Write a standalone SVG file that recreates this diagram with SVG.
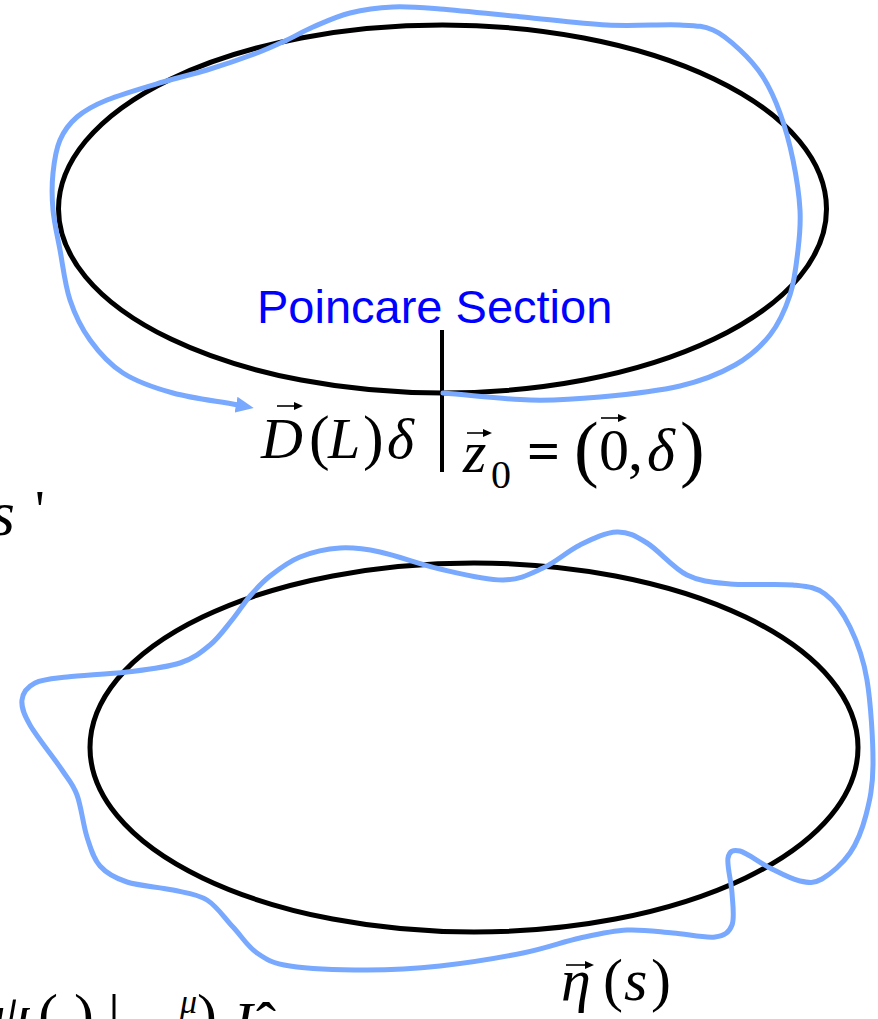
<svg xmlns="http://www.w3.org/2000/svg" width="878" height="1019" viewBox="0 0 878 1019">
<style>
.orbit{fill:none;stroke:#000;stroke-width:5}
.pert{fill:none;stroke:#78a9ff;stroke-width:5;stroke-linejoin:round;stroke-linecap:round}
.m{font-family:"Liberation Serif","Times New Roman",serif;fill:#000}
.i{font-style:italic}
.vec{stroke:#000;stroke-width:1.6;fill:none}
.vh{fill:#000}
.lbl{font-family:"Liberation Sans",Arial,sans-serif;fill:#0000ff;font-size:47px}
</style>
<defs>
<marker id="ah" viewBox="0 0 18 16" markerWidth="18" markerHeight="16" refX="2" refY="8" orient="auto" markerUnits="userSpaceOnUse">
<path d="M0,0 L18,8 L0,16 Z" fill="#78a9ff"/>
</marker>
</defs>
<rect width="878" height="1019" fill="#fff"/>

<g id="top-orbit">
<ellipse class="orbit" cx="442.5" cy="209" rx="384" ry="184"/>
</g>
<g id="bottom-orbit">
<ellipse class="orbit" cx="474" cy="747.5" rx="384" ry="184.5"/>
</g>
<g id="poincare-section">
<line x1="442" y1="330" x2="442" y2="472" stroke="#000" stroke-width="4"/>
<text class="lbl" x="257" y="323">Poincare Section</text>
</g>

<g id="connectors">
<path class="pert" marker-end="url(#ah)" d="M443,393 C472,395.3 503.8,399.3 530,400 S575,399.3 600,397 S657.5,391.3 680,386 S720,373.5 735,365 S760.8,346.7 770,335 S785.3,309.2 790,295 S796.3,264.2 798,250 S800.8,225 800,210 S796.3,176.2 793,160 S785,126.8 780,113 S769.7,87.5 763,77 S748.3,57.8 740,50 S723,34.2 713,30 S697.7,25.8 680,25 S633.2,26.3 607,25 S550.8,19.7 523,17 S461.7,10.7 440,9 S408,6.3 393,7 S363.3,9.7 350,13 S323.5,22.5 313,27 S296.3,35.7 287,40 S270.3,48 257,53 S222.7,65.2 207,70 S179.7,77 163,82 S121.3,94.2 107,100 S84.8,110.3 77,117 S64,130.7 60,140 S54.2,161.3 53,173 S51.8,197.2 53,210 S57.2,235 60,250 S65,285 70,300 S81.2,327.8 90,340 S109.2,364.2 123,373 S153.8,387.7 173,393 S216.3,401 238,405"/>
<path class="pert" d="M22,700 C22.8,693 27.5,686.8 35,683 S51.7,678.8 67,677 S108.2,674.3 127,672 S166.2,667.5 180,663 S201.3,652.2 210,645 S225.3,628.2 232,620 S243.7,603.3 250,596 S261.7,582.5 270,576 S288.3,561.7 300,557 S326.7,548.8 340,548 S363.3,548.5 380,552 S419.5,564.3 440,569 S485.8,580.2 503,580 S530.2,573.8 543,568 S567.7,551 580,545 S605.8,532.3 617,532 S635.3,535.8 647,543 S673.2,568.2 687,575 S712.3,582.3 730,584 S777.2,583.3 793,585 S815.5,587 825,594 S843,612.7 850,627 S863.2,657 867,680 S873.2,742.5 873,765 S869.8,800.3 866,815 S857.3,842.3 850,853 S830.3,874.3 822,879 S808.7,882.8 800,881 S780,873 770,868 S747,852.7 740,851 S729.3,851 728,858 S731.3,881.8 732,893 S734.8,917.7 732,925 S724.8,935.7 715,937 S687.7,934.2 673,933 S642.5,929.2 627,930 S597.3,934.2 580,938 S546.3,948.3 523,953 S466,963.2 440,966 S392,970 367,970 S308.3,968.8 290,966 S266.5,959.5 257,953 S241.3,935.8 233,927 S217,906.2 207,900 S186.3,893 173,890 S139.2,886 127,882 S106.7,873.5 100,866 S90.8,848.8 87,837 S81.2,806.2 77,795 S69.8,781.7 62,770 S36.7,736.7 30,725 S21.2,707 22,700 Z"/>
</g>

<g id="label-DL">
<text class="m" y="458" font-size="58"><tspan class="i" x="261">D</tspan><tspan x="309" font-size="62">(</tspan><tspan class="i" x="328">L</tspan><tspan x="363" font-size="62">)</tspan><tspan class="i" x="387">δ</tspan></text>
<path class="vec" d="M277,406 H297"/>
<path class="vh" d="M294,402 L303,406 L294,410 Z"/>
</g>

<g id="label-z0">
<text class="m" y="472" font-size="60"><tspan class="i" x="463">z</tspan></text>
<text class="m" x="491" y="488" font-size="40">0</text>
<text class="m" x="527" y="470" font-size="58" font-weight="bold">=</text>
<text class="m" y="473" font-size="74"><tspan x="574">(</tspan></text>
<text class="m" y="470" font-size="60"><tspan x="599">0</tspan><tspan x="628">,</tspan><tspan class="i" x="647">δ</tspan></text>
<text class="m" y="473" font-size="74"><tspan x="680">)</tspan></text>
<path class="vec" d="M467,433 H486"/>
<path class="vh" d="M483,429 L492,433 L483,437 Z"/>
<path class="vec" d="M601,418 H621"/>
<path class="vh" d="M618,414 L627,418 L618,422 Z"/>
</g>

<g id="label-sprime">
<text class="m" y="535" font-size="64"><tspan class="i" x="-10">s</tspan><tspan x="35" y="528" font-size="54">'</tspan></text>
</g>

<g id="label-eta">
<text class="m" y="1000" font-size="60"><tspan class="i" x="561">η</tspan><tspan x="603">(</tspan><tspan class="i" x="624">s</tspan><tspan x="651">)</tspan></text>
<path class="vec" d="M566,965 H588"/>
<path class="vh" d="M585,961 L594,965 L585,969 Z"/>
</g>

<g id="label-bottom-formula">
<text class="m" y="1035" font-size="60"><tspan class="i" x="-8">ψ</tspan><tspan x="38">(</tspan><tspan x="74">)</tspan><tspan x="108">|</tspan><tspan x="197">)</tspan><tspan class="i" x="226" y="1043">J</tspan><tspan x="256" y="1043">ˆ</tspan></text>
<text class="m i" x="180" y="1013" font-size="34">μ</text>
</g>
</svg>
